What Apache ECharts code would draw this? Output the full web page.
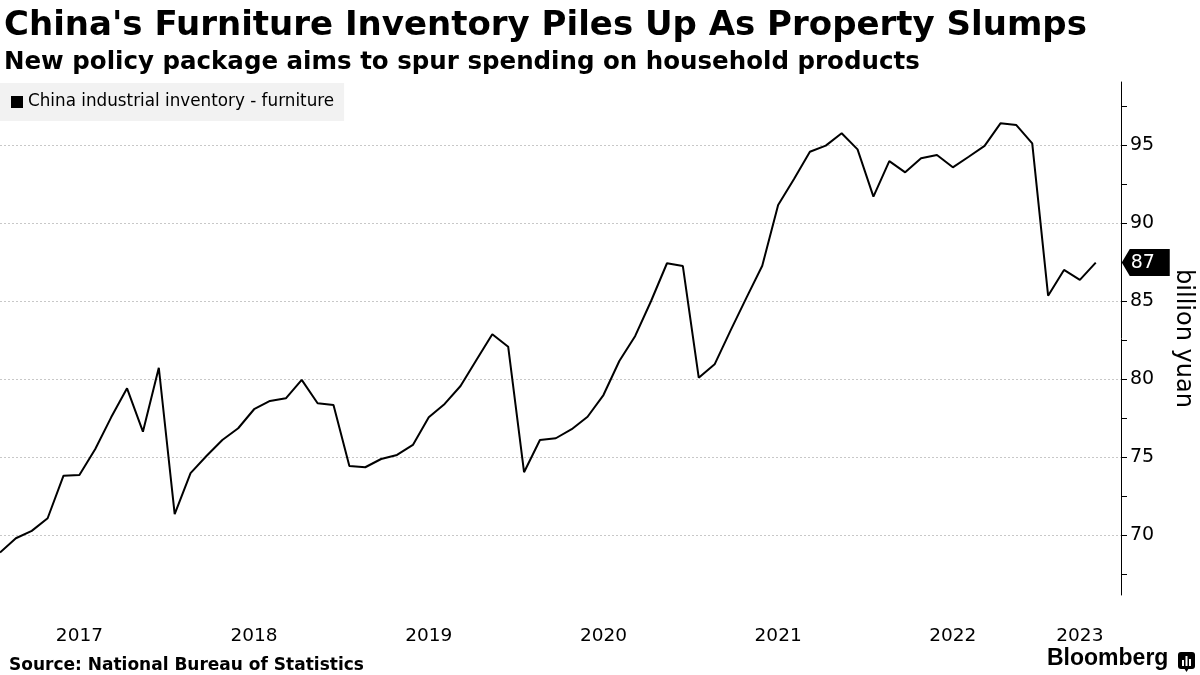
<!DOCTYPE html>
<html>
<head>
<meta charset="utf-8">
<script src="https://cdn.jsdelivr.net/npm/echarts@6/dist/echarts.min.js"></script>
<style>
html,body{margin:0;padding:0;background:#fff;}
#chart{width:1200px;height:675px;}
</style>
</head>
<body>
<div id="chart"></div>
<script>
// ---- Data ----
const months = [
  '2017-02','2017-03','2017-04','2017-05','2017-06','2017-07','2017-08','2017-09','2017-10','2017-11','2017-12',
  '2018-02','2018-03','2018-04','2018-05','2018-06','2018-07','2018-08','2018-09','2018-10','2018-11','2018-12',
  '2019-02','2019-03','2019-04','2019-05','2019-06','2019-07','2019-08','2019-09','2019-10','2019-11','2019-12',
  '2020-02','2020-03','2020-04','2020-05','2020-06','2020-07','2020-08','2020-09','2020-10','2020-11','2020-12',
  '2021-02','2021-03','2021-04','2021-05','2021-06','2021-07','2021-08','2021-09','2021-10','2021-11','2021-12',
  '2022-02','2022-03','2022-04','2022-05','2022-06','2022-07','2022-08','2022-09','2022-10','2022-11','2022-12',
  '2023-02','2023-03','2023-04','2023-05'
];
const inventory = [
  68.87, 69.79, 70.26, 71.07, 73.80, 73.85, 75.51, 77.54, 79.40, 76.62, 80.72,
  71.33, 73.96, 75.06, 76.09, 76.84, 78.06, 78.59, 78.76, 79.94, 78.44, 78.33,
  74.42, 74.34, 74.87, 75.13, 75.77, 77.54, 78.40, 79.55, 81.22, 82.87, 82.07,
  74.02, 76.09, 76.20, 76.78, 77.58, 78.97, 81.15, 82.76, 85.00, 87.42, 87.24,
  80.08, 80.94, 83.10, 85.20, 87.26, 91.15, 92.82, 94.57, 94.96, 95.75, 94.72,
  91.69, 93.97, 93.25, 94.15, 94.36, 93.57, 94.25, 94.94, 96.39, 96.28, 95.11,
  85.34, 86.99, 86.35, 87.46
];
const seriesName = 'China industrial inventory - furniture';
const yLabelTicks = [70, 75, 80, 85, 90, 95];
const yMinorTicks = [67.5, 70, 72.5, 75, 77.5, 80, 82.5, 85, 87.5, 90, 92.5, 95, 97.5];
const yearLabelMonths = ['2017-07','2018-07','2019-07','2020-07','2021-07','2022-07','2023-04'];

const titleText = "China's Furniture Inventory Piles Up As Property Slumps";
const subtitleText = 'New policy package aims to spur spending on household products';
const sourceText = 'Source: National Bureau of Statistics';
const unitText = 'billion yuan';

// ---- Build ----
const FONT = "'DejaVu Sans', sans-serif";
const points = inventory.map((v, i) => [i, v]);
const lastIdx = inventory.length - 1;
const lastVal = inventory[lastIdx];
const yearLabelIdx = yearLabelMonths.map(m => months.indexOf(m));
const Y_MIN = 66.15, Y_MAX = 99.04;

const chart = echarts.init(document.getElementById('chart'), null, {renderer: 'canvas'});
chart.setOption({
  animation: false,
  backgroundColor: '#fff',
  title: [
    {text: titleText, left: -1, top: 4,
     textStyle: {fontFamily: FONT, fontWeight: 'bold', fontSize: 34, color: '#000'}},
    {text: subtitleText, left: -1, top: 45,
     textStyle: {fontFamily: FONT, fontWeight: 'bold', fontSize: 24.5, color: '#000'}},
    {text: sourceText, left: 4, top: 652,
     textStyle: {fontFamily: FONT, fontWeight: 'bold', fontSize: 17, color: '#000'}}
  ],
  legend: {
    data: [seriesName], left: 0, top: 83, orient: 'horizontal',
    backgroundColor: '#f2f2f2', padding: [9, 10, 9, 11],
    icon: 'rect', itemWidth: 12, itemHeight: 12,
    selectedMode: false,
    textStyle: {fontFamily: FONT, fontSize: 16.8, color: '#000', lineHeight: 20}
  },
  grid: {left: 0, right: 79, top: 82, bottom: 80, containLabel: false, outerBoundsMode: 'none'},
  xAxis: {
    type: 'value', min: 0, max: 70.59,
    axisLine: {show: false}, axisTick: {show: false}, splitLine: {show: false},
    axisLabel: {
      customValues: yearLabelIdx, margin: 32,
      fontFamily: FONT, fontSize: 18.5, color: '#000',
      formatter: v => months[Math.round(v)].slice(0, 4)
    }
  },
  yAxis: [
    {
      type: 'value', position: 'right', min: Y_MIN, max: Y_MAX,
      axisLine: {show: true, onZero: false, lineStyle: {color: '#000', width: 1}},
      axisTick: {show: true, inside: false, length: 6, customValues: yMinorTicks,
                 lineStyle: {color: '#000', width: 1}},
      axisLabel: {customValues: yLabelTicks, margin: 9, fontFamily: FONT, fontSize: 19, color: '#000'},
      splitLine: {show: false},
      name: unitText, nameLocation: 'middle', nameRotate: -90, nameGap: 50,
      nameTextStyle: {fontFamily: FONT, fontSize: 24, color: '#000'}
    },
    {
      type: 'value', position: 'right', min: Y_MIN, max: Y_MAX,
      axisLine: {show: false, onZero: false},
      axisTick: {show: false, customValues: yLabelTicks},
      axisLabel: {show: false},
      splitLine: {show: true, lineStyle: {color: '#c8c8c8', width: 1, type: [2, 2]}}
    }
  ],
  series: [{
    name: seriesName, type: 'line', data: points, yAxisIndex: 0,
    showSymbol: false, symbol: 'none', color: '#000',
    lineStyle: {color: '#000', width: 2}, z: 3,
    markPoint: {
      silent: true,
      data: [{coord: [lastIdx, lastVal], value: Math.round(lastVal)}],
      symbol: 'path://M0,13.5 L8,0 L48,0 L48,27 L8,27 Z',
      symbolSize: [48, 27], symbolOffset: [50, 0],
      itemStyle: {color: '#000'},
      label: {show: true, position: 'inside', offset: [-3, 0], color: '#fff',
              fontFamily: FONT, fontSize: 19, formatter: p => p.value}
    }
  }],
  graphic: [
    {type: 'text', left: 1047, top: 647,
     style: {text: 'Bloomberg', fontFamily: "'Liberation Sans', Arial, sans-serif", fontWeight: 'bold', fontSize: 23, fill: '#000'}},
    {type: 'group', left: 1178, top: 652, children: [
      {type: 'rect', shape: {x: 0, y: 0, width: 17, height: 17, r: 3}, style: {fill: '#000'}},
      {type: 'polygon', shape: {points: [[6, 16], [11, 16], [8.5, 20]]}, style: {fill: '#000'}},
      {type: 'rect', shape: {x: 4, y: 8, width: 2, height: 6}, style: {fill: '#fff'}},
      {type: 'rect', shape: {x: 7.5, y: 4, width: 2, height: 10}, style: {fill: '#fff'}},
      {type: 'rect', shape: {x: 11, y: 7, width: 2, height: 7}, style: {fill: '#fff'}}
    ]}
  ]
});
</script>
</body>
</html>
